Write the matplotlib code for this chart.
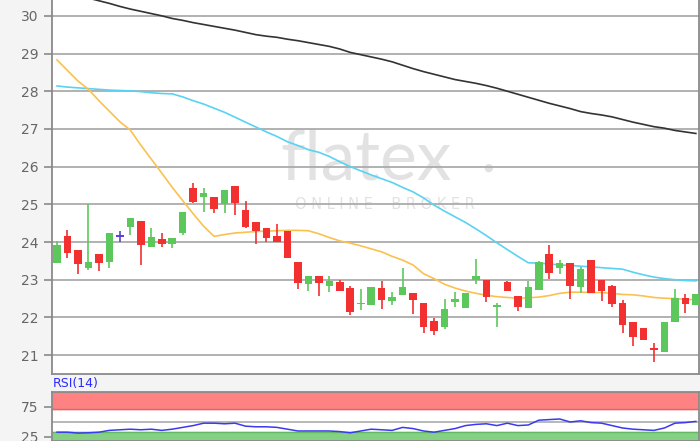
import numpy as np
import matplotlib
matplotlib.use("Agg")
import matplotlib.pyplot as plt

# daily candles
opens = [23.45, 24.17, 23.80, 23.30, 23.67, 23.48, 24.15, 24.41, 24.55, 23.87,
         24.07, 23.96, 24.25, 25.43, 25.20, 25.19, 25.02, 25.48, 24.84, 24.52,
         24.36, 24.17, 24.28, 23.48, 22.89, 23.11, 22.84, 22.95, 22.79, 22.36,
         22.33, 22.79, 22.44, 22.60, 22.65, 22.39, 21.91, 21.75, 22.41, 22.25,
         23.00, 23.00, 22.28, 22.95, 22.57, 22.25, 22.73, 23.69, 23.32, 23.45,
         22.81, 23.53, 23.00, 22.84, 22.39, 21.88, 21.72, 21.19, 21.08, 21.88,
         22.52, 22.33]
closes = [23.91, 23.72, 23.43, 23.48, 23.45, 24.23, 24.15, 24.65, 23.92, 24.14,
          23.96, 24.10, 24.79, 25.05, 25.29, 24.87, 25.37, 25.03, 24.39, 24.28,
          24.12, 24.01, 23.59, 22.92, 23.11, 22.92, 22.97, 22.71, 22.15, 22.39,
          22.81, 22.47, 22.55, 22.81, 22.47, 21.75, 21.64, 22.23, 22.49, 22.65,
          23.11, 22.55, 22.32, 22.71, 22.28, 22.81, 23.48, 23.19, 23.45, 22.84,
          23.29, 22.65, 22.71, 22.36, 21.80, 21.48, 21.40, 21.14, 21.88, 22.52,
          22.36, 22.63]
highs = [24.04, 24.33, 23.80, 25.00, 23.67, 24.23, 24.28, 24.65, 24.55, 24.36,
         24.25, 24.10, 24.80, 25.56, 25.43, 25.20, 25.37, 25.48, 25.08, 24.52,
         24.36, 24.47, 24.30, 23.48, 23.11, 23.11, 23.11, 22.98, 22.83, 22.76,
         22.81, 22.97, 22.68, 23.32, 22.65, 22.39, 21.99, 22.49, 22.68, 22.65,
         23.56, 23.00, 22.39, 22.97, 22.57, 22.97, 23.50, 23.91, 23.53, 23.45,
         23.35, 23.53, 23.00, 22.85, 22.47, 21.88, 21.72, 21.32, 21.88, 22.76,
         22.63, 22.63]
lows = [23.45, 23.59, 23.16, 23.25, 23.22, 23.32, 24.01, 24.20, 23.40, 23.87,
        23.88, 23.83, 24.20, 25.03, 24.81, 24.78, 24.76, 24.73, 24.38, 23.96,
        23.99, 24.00, 23.57, 22.76, 22.71, 22.57, 22.68, 22.70, 22.07, 22.20,
        22.33, 22.23, 22.33, 22.60, 22.09, 21.59, 21.53, 21.69, 22.28, 22.25,
        22.89, 22.41, 21.75, 22.70, 22.17, 22.25, 22.73, 23.03, 23.16, 22.49,
        22.65, 22.65, 22.44, 22.28, 21.59, 21.24, 21.40, 20.81, 21.08, 21.88,
        22.12, 22.33]

# moving averages
ma_long = [30.67, 30.61, 30.54, 30.47, 30.40, 30.33, 30.25, 30.18, 30.12, 30.06,
           30.00, 29.93, 29.88, 29.82, 29.77, 29.72, 29.67, 29.62, 29.56, 29.50,
           29.46, 29.43, 29.38, 29.34, 29.29, 29.24, 29.19, 29.12, 29.03, 28.97,
           28.91, 28.85, 28.78, 28.69, 28.60, 28.52, 28.45, 28.38, 28.31, 28.26,
           28.21, 28.15, 28.08, 28.00, 27.92, 27.84, 27.76, 27.68, 27.61, 27.54,
           27.46, 27.41, 27.37, 27.32, 27.25, 27.18, 27.12, 27.06, 27.02, 26.96,
           26.92, 26.88]
ma_mid = [28.14, 28.11, 28.09, 28.07, 28.05, 28.03, 28.02, 28.01, 27.99, 27.96,
          27.94, 27.93, 27.85, 27.75, 27.66, 27.55, 27.44, 27.31, 27.18, 27.05,
          26.92, 26.80, 26.66, 26.56, 26.45, 26.38, 26.27, 26.13, 26.00, 25.89,
          25.78, 25.68, 25.58, 25.45, 25.33, 25.17, 24.98, 24.82, 24.67, 24.52,
          24.35, 24.17, 23.98, 23.80, 23.62, 23.45, 23.44, 23.42, 23.39, 23.38,
          23.36, 23.34, 23.32, 23.30, 23.28, 23.20, 23.13, 23.07, 23.03, 23.00,
          22.98, 22.97]
ma_short = [28.83, 28.55, 28.27, 28.05, 27.75, 27.47, 27.19, 26.97, 26.57, 26.20,
            25.83, 25.45, 25.10, 24.75, 24.42, 24.15, 24.20, 24.24, 24.26, 24.28,
            24.29, 24.30, 24.31, 24.31, 24.30, 24.22, 24.12, 24.03, 23.97, 23.90,
            23.82, 23.74, 23.62, 23.52, 23.39, 23.16, 23.03, 22.88, 22.78, 22.70,
            22.64, 22.59, 22.55, 22.53, 22.51, 22.52, 22.54, 22.58, 22.64, 22.67,
            22.67, 22.66, 22.66, 22.64, 22.61, 22.60, 22.57, 22.53, 22.51, 22.50,
            22.48, 22.47]

rsi = [33, 33, 31.5, 32, 33, 36, 37, 38, 37, 38,
       36, 38, 41, 44, 48, 48, 47, 48, 43, 42,
       42, 41, 38, 35, 35, 35, 35, 34, 32, 35,
       38, 37, 36, 41, 39, 35, 33, 36, 39, 44,
       46, 47, 44, 48, 44, 45, 53, 54, 55, 50,
       52, 49, 48, 44, 40, 38, 37, 36, 40, 48,
       49, 51]

price_ticks = [21, 22, 23, 24, 25, 26, 27, 28, 29, 30]
rsi_ticks = [25, 75]

GREEN = '#5cc85c'
RED = '#f23030'
DOJI = '#5b3fd6'
GRID = '#ababab'
SPINE = '#8a8a8a'
TXT = '#666666'
WM = '#e2e2e2'

o = np.array(opens)
c = np.array(closes)
h = np.array(highs)
l = np.array(lows)
x = np.arange(len(o))

fig = plt.figure(figsize=(7, 4.41), dpi=100, facecolor='#f4f4f4')
ax = fig.add_axes([52 / 700, 1 - 374 / 441, 647 / 700, 374 / 441])
rx = fig.add_axes([52 / 700, 0, 647 / 700, 49 / 441])

# ---- price panel
ax.set_facecolor('white')
ax.set_xlim(-0.48, 61.3)
ax.set_ylim(20.5, 30.42)
ax.set_yticks(price_ticks)
ax.set_yticklabels([str(t) for t in price_ticks])
ax.set_xticks([])
ax.grid(axis='y', color=GRID, lw=1.3, zorder=0)
ax.tick_params(axis='y', colors=SPINE, labelcolor=TXT, labelsize=10, length=6, width=1.2)
ax.spines['top'].set_visible(False)
for s in ['left', 'bottom', 'right']:
    ax.spines[s].set_color(SPINE)
    ax.spines[s].set_linewidth(1.3)

# watermark
ax.text(0.485, 0.572, 'flatex', transform=ax.transAxes, ha='center', va='center',
        fontsize=50, color=WM, family='Lato', zorder=0.5)
ax.text(0.674, 0.553, '●', transform=ax.transAxes, ha='center', va='center',
        fontsize=8, color=WM, zorder=0.5)
ax.text(0.515, 0.452, 'O N L I N E    B R O K E R', transform=ax.transAxes,
        ha='center', va='center', fontsize=10.5, color=WM, zorder=0.5)

# moving averages
ax.plot(x, ma_long, color='#333333', lw=1.2, zorder=2)
ax.plot(x, ma_mid, color='#5ad2f2', lw=1.2, zorder=2)
ax.plot(x, ma_short, color='#fbc14f', lw=1.2, zorder=2)

# candles
cols = np.where(c > o, GREEN, np.where(c < o, RED, DOJI))
w = 0.72
ax.vlines(x, l, h, colors=cols, lw=1.2, zorder=3)
body = np.abs(c - o)
ax.bar(x, body, width=w, bottom=np.minimum(o, c), color=cols, zorder=4)
flat = c == o
ax.hlines(c[flat], x[flat] - w / 2, x[flat] + w / 2, colors=DOJI, lw=1.4, zorder=4)

# ---- RSI panel
rx.set_facecolor('white')
rx.set_xlim(-0.48, 61.3)
rx.set_ylim(18.3, 100)
rx.axhspan(71, 100, color='#ff8282', zorder=1)
rx.axhline(71, color='#e06464', lw=1, zorder=1)
rx.axhspan(0, 33, color='#84d184', zorder=1)
rx.axhline(33, color='#64b864', lw=1, zorder=1)
rx.axhline(50, color=GRID, lw=1.2, zorder=1)
rx.plot(x, rsi, color='#3a3af0', lw=1.1, zorder=3)
rx.set_yticks(rsi_ticks)
rx.set_yticklabels([str(t) for t in rsi_ticks])
rx.set_xticks([])
rx.tick_params(axis='y', colors=SPINE, labelcolor=TXT, labelsize=10, length=6, width=1.2)
for s in ['left', 'top', 'right', 'bottom']:
    rx.spines[s].set_color(SPINE)
    rx.spines[s].set_linewidth(1.3)

fig.text(53 / 700, 1 - 384 / 441, 'RSI(14)', color='#2b2bff', fontsize=9, va='center', ha='left')

fig.savefig('out.png', dpi=100, facecolor=fig.get_facecolor())
